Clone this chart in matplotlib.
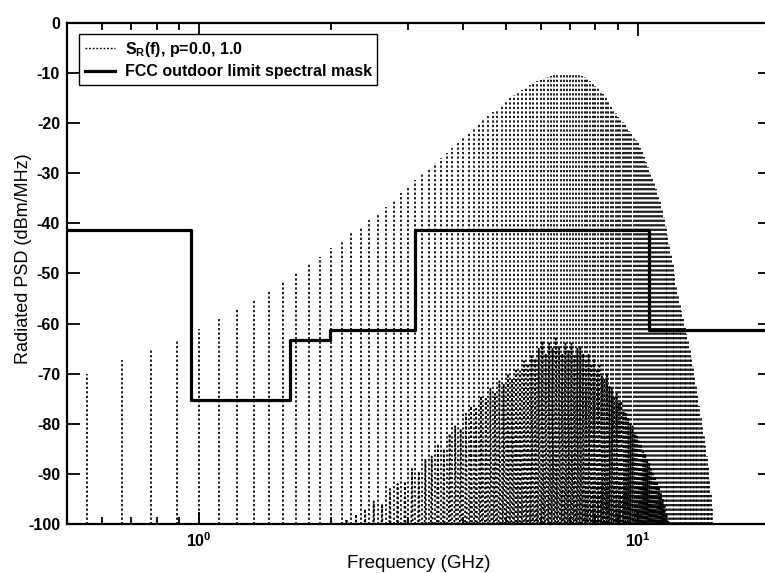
import matplotlib

matplotlib.use("Agg")

import matplotlib.pyplot as plt
import numpy as np
from matplotlib.lines import Line2D
from matplotlib.ticker import FixedLocator, FixedFormatter, LogLocator, NullFormatter


# spectral lines (p=1.0): harmonics of the pulse repetition frequency
LINE_SPACING_GHZ = 1 / 9
FIRST_HARMONIC = 5
LINE_TOP_DBM = [
    -70, -67.3, -65, -63.5, -61, -59, -57, -55, -53.5, -51.5,
    -50, -48, -46.7, -45, -43.5, -42, -40.7, -39.3, -38, -36.7,
    -35.3, -34, -32.5, -31.3, -30.2, -29.1, -28, -27, -26, -25,
    -24, -23, -22, -21, -20.2, -19.4, -18.6, -17.8, -17.1, -16.4,
    -15.7, -15, -14.4, -13.8, -13.3, -12.8, -12.4, -12, -11.6, -11.3,
    -11, -10.8, -10.6, -10.4, -10.3, -10.2, -10.1, -10.1, -10.1, -10.2,
    -10.3, -10.4, -10.6, -10.8, -11.1, -11.5, -12, -12.5, -13, -13.6,
    -14.2, -14.9, -15.6, -16.4, -17.2, -18, -18.8, -19.3, -19.8, -20.4,
    -21, -21.6, -22.2, -22.8, -23.4, -24, -24.9, -25.8, -26.8, -27.8,
    -28.8, -29.8, -30.9, -32, -33.2, -34.4, -35.7, -37.2, -38.8, -40.5,
    -42.3, -44.2, -46.2, -48.2, -50.3, -52.4, -54.5, -56, -57.5, -59,
    -60.5, -62, -63.5, -65, -66.7, -68.5, -70.5, -72.5, -74.5, -76.5,
    -78.5, -80.5, -82.5, -84.5, -86.5, -88.5, -91, -94, -97,
]

# continuous part (p=0.0): peak level between harmonics k and k+1
FIRST_GAP = 19
CONT_TOP_DBM = [
    -99, -98, -97, -95.5, -96, -93, -92, -91.5, -89, -89.5,
    -87, -86.5, -84, -85, -82, -80.5, -81, -78, -76.5, -77,
    -74.5, -75, -73, -74, -71.5, -72, -70, -71, -69, -69.5,
    -67.5, -68, -66.5, -67, -65, -63.5, -66, -64, -65, -63,
    -64.5, -66, -64, -65.5, -64, -66.5, -65, -64.5, -66, -67.5,
    -66, -68, -67, -69, -68, -70.5, -71, -70, -72.5, -73,
    -74.5, -74, -76, -75.5, -77.5, -78, -79, -80, -80.5, -82,
    -82.5, -83.5, -84, -85.5, -86, -87, -88, -89, -90, -90.5,
    -91.5, -92.5, -94, -95, -96.5, -98, -99.5,
]
NULL_DBM = -140

# FCC outdoor UWB mask
MASK_EDGES_GHZ = [0.5, 0.96, 1.61, 1.99, 3.1, 10.6, 20]
MASK_LEVEL_DBM = [-41.3, -75.3, -63.3, -61.3, -41.3, -61.3]

Y_TICKS = [0, -10, -20, -30, -40, -50, -60, -70, -80, -90, -100]
X_MAJOR = [1, 10]
X_MAJOR_LABELS = [r"$\mathbf{10^{0}}$", r"$\mathbf{10^{1}}$"]

FONT = ["Liberation Sans", "DejaVu Sans"]
DOTTED = (0, (1.3, 1.3))


def main() -> None:
    plt.rcParams["font.family"] = FONT
    plt.rcParams["mathtext.fontset"] = "custom"
    plt.rcParams["mathtext.rm"] = "Liberation Sans:bold"
    plt.rcParams["mathtext.bf"] = "Liberation Sans:bold"
    plt.rcParams["mathtext.it"] = "Liberation Sans:bold"

    fig = plt.figure(figsize=(7.65, 5.73), dpi=100, facecolor="white")
    ax = fig.add_axes([0.0876, 0.0855, 0.919, 0.8744])

    line_freqs = LINE_SPACING_GHZ * np.arange(FIRST_HARMONIC, FIRST_HARMONIC + len(LINE_TOP_DBM))
    ax.vlines(line_freqs, NULL_DBM, LINE_TOP_DBM, colors="black", linestyles=DOTTED, linewidth=1.25)

    # continuous spectrum, nulls at the harmonics
    gaps = np.arange(FIRST_GAP, FIRST_GAP + len(CONT_TOP_DBM))
    cont_x, cont_y = [], []
    for k, top in zip(gaps, CONT_TOP_DBM):
        cont_x += [k * LINE_SPACING_GHZ, (k + 0.5) * LINE_SPACING_GHZ]
        cont_y += [NULL_DBM, top]
    cont_x.append((gaps[-1] + 1) * LINE_SPACING_GHZ)
    cont_y.append(NULL_DBM)
    ax.plot(cont_x, cont_y, color="black", linestyle=DOTTED, linewidth=1.3)

    ax.step(MASK_EDGES_GHZ, MASK_LEVEL_DBM + MASK_LEVEL_DBM[-1:], where="post", color="black", linewidth=2.3)

    ax.set_xscale("log")
    ax.set_xlim(0.5, 20)
    ax.set_ylim(-100, 0)

    ax.xaxis.set_major_locator(FixedLocator(X_MAJOR))
    ax.xaxis.set_major_formatter(FixedFormatter(X_MAJOR_LABELS))
    ax.xaxis.set_minor_locator(LogLocator(base=10, subs=np.arange(2, 10)))
    ax.xaxis.set_minor_formatter(NullFormatter())
    ax.set_yticks(Y_TICKS)
    ax.set_yticklabels([str(v) for v in Y_TICKS])

    ax.tick_params(which="both", direction="in", top=True, right=True, width=1.3, labelsize=11.5, pad=5)
    ax.tick_params(which="major", length=9)
    ax.tick_params(which="minor", length=5)
    for lab in ax.get_yticklabels():
        lab.set_fontweight("bold")
    for spine in ax.spines.values():
        spine.set_linewidth(1.6)

    ax.set_xlabel("Frequency (GHz)", fontsize=13.5, labelpad=4)
    ax.set_ylabel("Radiated PSD (dBm/MHz)", fontsize=13)
    ax.yaxis.set_label_coords(-0.05, 0.53)

    handles = [
        Line2D([0], [0], color="black", linestyle=DOTTED, linewidth=1.0, label=r"$S_R(f)$, p=0.0, 1.0"),
        Line2D([0], [0], color="black", linewidth=2.3, label="FCC outdoor limit spectral mask"),
    ]
    leg = ax.legend(
        handles=handles,
        loc="upper left",
        bbox_to_anchor=(0.006, 0.994),
        frameon=True,
        fancybox=False,
        edgecolor="black",
        framealpha=1,
        prop={"weight": "bold", "size": 11.5, "family": FONT},
        handlelength=1.9,
        handletextpad=0.6,
        borderpad=0.35,
        labelspacing=0.35,
    )
    leg.get_frame().set_linewidth(1.0)

    fig.savefig("out.png", dpi=100)
    plt.close(fig)


if __name__ == "__main__":
    main()
